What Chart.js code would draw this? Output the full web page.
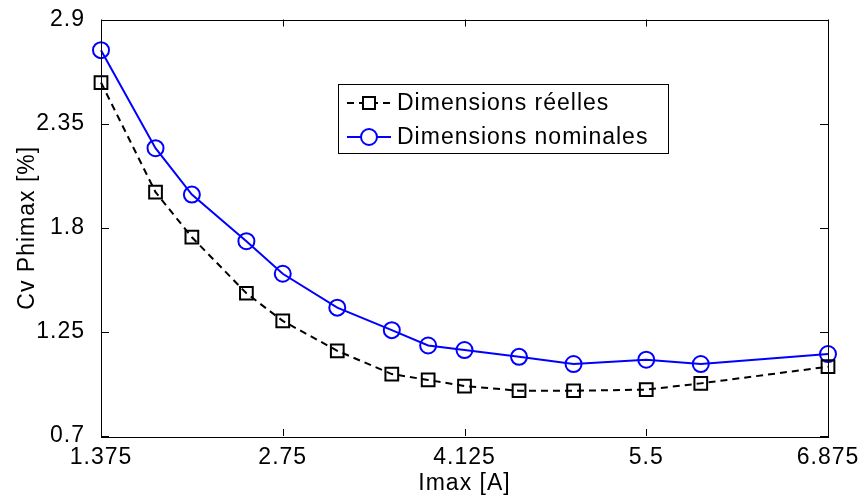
<!DOCTYPE html>
<html>
<head>
<meta charset="utf-8">
<script src="https://cdn.jsdelivr.net/npm/chart.js@4"></script>
<style>
  body { margin: 0; background: #fff; }
  #wrap { width: 864px; height: 502px; }
</style>
</head>
<body>
<div id="wrap"><canvas id="chart" width="864" height="502"></canvas></div>
<script>
// data
const imax = [1.375, 1.7875, 2.0625, 2.475, 2.75, 3.1625, 3.575, 3.85, 4.125, 4.5375, 4.95, 5.5, 5.9125, 6.875];
const reelles = [2.567, 1.988, 1.750, 1.454, 1.308, 1.150, 1.027, 0.996, 0.964, 0.939, 0.939, 0.945, 0.978, 1.066];
const nominales = [2.738, 2.220, 1.975, 1.729, 1.557, 1.378, 1.259, 1.178, 1.154, 1.118, 1.080, 1.103, 1.080, 1.133];
const xTicks = [1.375, 2.75, 4.125, 5.5, 6.875];
const yTicks = [0.7, 1.25, 1.8, 2.35, 2.9];
const seriesNames = ['Dimensions réelles', 'Dimensions nominales'];

const FONT = '"Liberation Sans", Arial, sans-serif';
Chart.defaults.font.family = FONT;
Chart.defaults.font.size = 23;
Chart.defaults.color = '#000';

function pts(ys) {
  return imax.map((x, i) => ({ x: x, y: ys[i] }));
}

// matlab text is a bit wider than Arial, spread the letters a little
const spacing = {
  id: 'spacing',
  beforeLayout(chart) { chart.ctx.letterSpacing = '1px'; },
  beforeDraw(chart) { chart.ctx.letterSpacing = '1px'; }
};

// frame, inward ticks on all four sides, legend box inside the axes
const matlabStyle = {
  id: 'matlabStyle',
  afterDraw(chart) {
    const c = chart.ctx;
    const a = chart.chartArea;
    const xs = chart.scales.x, ys = chart.scales.y;
    c.save();
    c.strokeStyle = '#000';
    c.lineWidth = 1;
    c.strokeRect(Math.round(a.left) + 0.5, Math.round(a.top) + 0.5,
      Math.round(a.right - a.left), Math.round(a.bottom - a.top));
    c.beginPath();
    xTicks.forEach(v => {
      const px = Math.round(xs.getPixelForValue(v)) + 0.5;
      c.moveTo(px, a.bottom); c.lineTo(px, a.bottom - 7);
      c.moveTo(px, a.top); c.lineTo(px, a.top + 7);
    });
    yTicks.forEach(v => {
      const py = Math.round(ys.getPixelForValue(v)) + 0.5;
      c.moveTo(a.left, py); c.lineTo(a.left + 8, py);
      c.moveTo(a.right, py); c.lineTo(a.right - 8, py);
    });
    c.stroke();

    // legend
    const bx = 338, by = 84, bw = 330, bh = 69;
    c.fillStyle = '#fff';
    c.fillRect(bx, by, bw, bh);
    c.strokeRect(bx + 0.5, by + 0.5, bw, bh);
    chart.data.datasets.forEach((ds, i) => {
      const yy = by + 19 + i * 34;
      c.strokeStyle = ds.borderColor;
      c.lineWidth = ds.borderWidth;
      c.setLineDash(ds.borderDash || []);
      c.beginPath();
      c.moveTo(bx + 9, yy); c.lineTo(bx + 53, yy);
      c.stroke();
      c.setLineDash([]);
      c.fillStyle = '#fff';
      c.beginPath();
      if (ds.pointStyle === 'rect') {
        c.rect(bx + 31 - 6, yy - 6, 12, 12);
      } else {
        c.arc(bx + 31, yy, 8, 0, Math.PI * 2);
      }
      c.fill();
      c.stroke();
      c.fillStyle = '#000';
      c.font = '23px ' + FONT;
      c.letterSpacing = '1px';
      c.textBaseline = 'middle';
      c.fillText(ds.label, bx + 59, yy + 1);
    });
    c.restore();
  }
};

new Chart(document.getElementById('chart').getContext('2d'), {
  type: 'line',
  data: {
    datasets: [{
      label: seriesNames[0],
      data: pts(reelles),
      borderColor: '#000',
      borderWidth: 2,
      borderDash: [7, 5],
      pointStyle: 'rect',
      pointRadius: 9,
      pointBorderWidth: 2,
      pointBorderColor: '#000',
      pointBackgroundColor: 'rgba(0,0,0,0)',
      tension: 0,
      clip: false
    }, {
      label: seriesNames[1],
      data: pts(nominales),
      borderColor: '#0000ff',
      borderWidth: 2,
      pointStyle: 'circle',
      pointRadius: 8,
      pointBorderWidth: 2,
      pointBorderColor: '#0000ff',
      pointBackgroundColor: 'rgba(0,0,0,0)',
      tension: 0,
      clip: false
    }]
  },
  options: {
    responsive: false,
    animation: false,
    layout: { padding: { top: 15, right: 36, left: 0, bottom: 0 } },
    plugins: {
      legend: { display: false },
      tooltip: { enabled: false }
    },
    scales: {
      x: {
        type: 'linear',
        min: 1.375,
        max: 6.875,
        grid: { display: false },
        border: { display: false },
        afterBuildTicks: s => { s.ticks = xTicks.map(v => ({ value: v })); },
        afterFit: s => { s.height = 66; },
        ticks: { padding: 2, maxRotation: 0, font: { lineHeight: 1 }, callback: v => String(v) },
        title: { display: true, text: 'Imax [A]', padding: { top: 0, bottom: 5 } }
      },
      y: {
        min: 0.7,
        max: 2.9,
        grid: { display: false },
        border: { display: false },
        afterBuildTicks: s => { s.ticks = yTicks.map(v => ({ value: v })); },
        afterFit: s => { s.width = 101; },
        ticks: { padding: 8, font: { lineHeight: 1 }, callback: v => String(v) },
        title: { display: true, text: 'Cv Phimax [%]', padding: { top: 14, bottom: 0 } }
      }
    }
  },
  plugins: [spacing, matlabStyle]
});
</script>
</body>
</html>
